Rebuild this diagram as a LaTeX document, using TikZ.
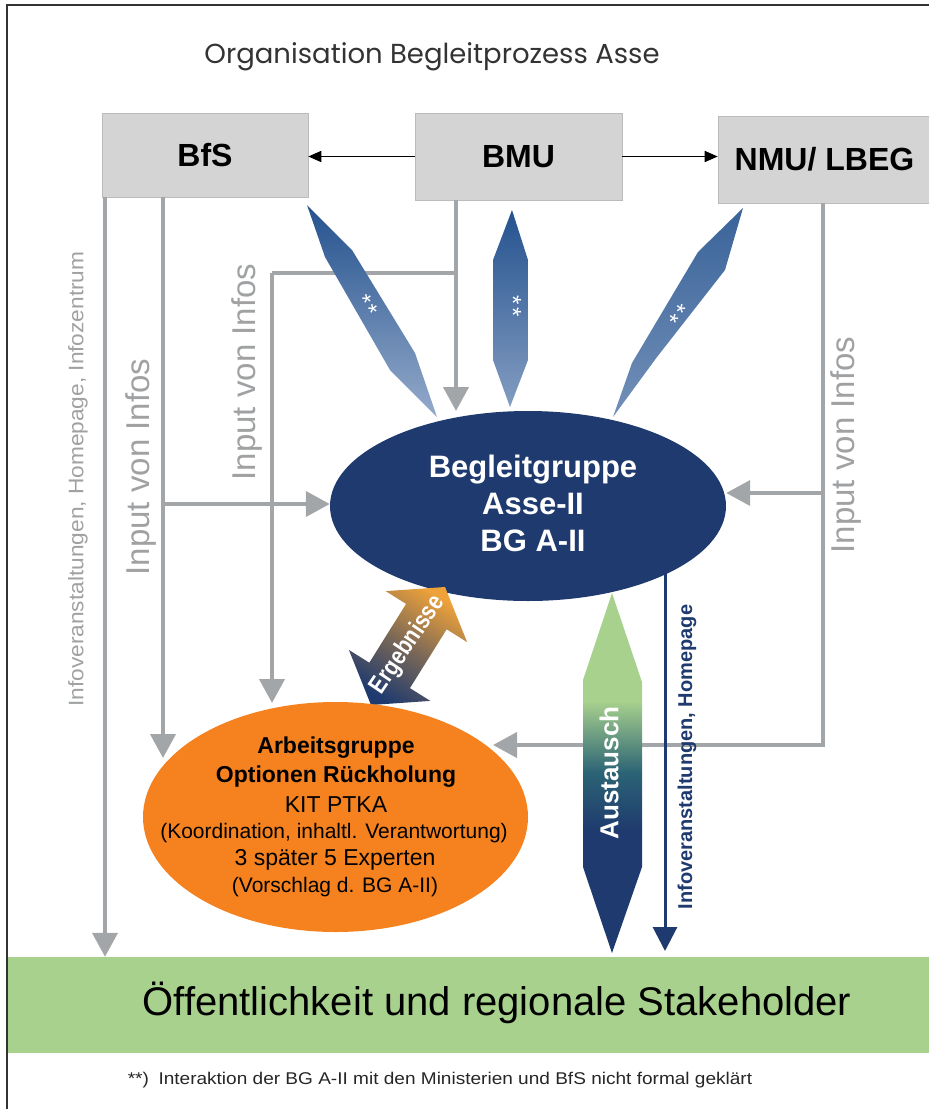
\documentclass[tikz,border=0pt]{standalone}
\usepackage{fontspec}
\setmainfont{Liberation Sans}
\newfontfamily\titlefont{Poppins}
\usetikzlibrary{arrows.meta,shapes.geometric,calc}
\definecolor{boxgray}{HTML}{D4D4D4}
\definecolor{linegray}{HTML}{A3A6A8}
\definecolor{labelgray}{HTML}{9FA1A3}
\definecolor{navy}{HTML}{1F3A6E}
\definecolor{orangeag}{HTML}{F5821F}
\definecolor{greenpub}{HTML}{A9D18E}
\definecolor{goldarrow}{HTML}{EEA23A}
\definecolor{bladedark}{HTML}{24528E}
\definecolor{bladelight}{HTML}{94AACA}
\definecolor{ausgreen}{HTML}{A8D18D}
\definecolor{austeal}{HTML}{2B6375}
\pgfdeclareverticalshading{austausch}{100bp}{color(0bp)=(navy); color(42bp)=(navy); color(50bp)=(austeal); color(60bp)=(ausgreen); color(100bp)=(ausgreen)}
\tikzset{
  graybox/.style={fill=boxgray, draw=boxgray!88!black, line width=0.6pt, inner sep=0pt, font=\bfseries\fontsize{32}{36}\selectfont},
  grayarrow/.style={draw=linegray, line width=4pt, -{Triangle[length=24pt,width=25pt]}},
  grayline/.style={draw=linegray, line width=4pt},
  blackarrow/.style={draw=black, line width=1.6pt, -{Triangle[length=13pt,width=11pt]}},
  navyarrow/.style={draw=navy, line width=3pt, -{Triangle[length=24pt,width=24pt]}},
  graylabel/.style={text=labelgray, rotate=90, inner sep=0pt},
  starlabel/.style={text=white, inner sep=0pt, font=\fontsize{24}{24}\selectfont},
  agline/.style={anchor=base, inner sep=0pt},
}
\newcommand{\twostars}{*\kern3pt*}
\begin{document}
\begin{tikzpicture}[x=1pt,y=-1pt]
\useasboundingbox (0,0) rectangle (929,1109);
% frame
\draw[line width=1.2pt, black!80] (7,1109) -- (7,5) -- (929,5);
% title
\node[font=\titlefont\fontsize{27.5}{32}\selectfont, text=black!80] (title) at (432,57) {Organisation Begleitprozess Asse};
% top boxes
\node[graybox, minimum width=206, minimum height=84] (bfs) at (205,155) {BfS};
\node[graybox, minimum width=207, minimum height=87] (bmu) at (518.5,156.5) {BMU};
\node[graybox, minimum width=213, minimum height=87] (nmu) at (824.5,159.5) {NMU/ LBEG};
\draw[blackarrow] (bmu.west) -- (bfs.east |- bmu.west);
\draw[blackarrow] (bmu.east) -- (nmu.west |- bmu.east);
% public band
\node[fill=greenpub, minimum width=921, minimum height=96, inner sep=0pt] (pub) at (468.5,1005) {};
\node[font=\fontsize{40}{44}\selectfont, inner sep=0pt] (pubtext) at (497,1003) {Öffentlichkeit und regionale Stakeholder};
% footnote
\node[font=\fontsize{17}{20}\selectfont, inner sep=0pt, text=black!85] (foot) at (440,1080) {\scalebox{1.12}[1]{**)\enspace Interaktion der BG A-II mit den Ministerien und BfS nicht formal geklärt}};
% ellipse placeholders (for names)
\path (528,506) node[ellipse, minimum width=396, minimum height=190, inner sep=0pt] (bg) {};
\path (335.5,817) node[ellipse, minimum width=385, minimum height=230, inner sep=0pt] (ag) {};
% coordinates for gray connectors
\coordinate (c1) at (105,197);
\coordinate (c2) at (163,197);
\coordinate (c2b) at (163,504);
\coordinate (c3) at (456,200);
\coordinate (c3b) at (456,273);
\coordinate (c3c) at (272,273);
\coordinate (c4) at (823,203);
\coordinate (c4b) at (823,493);
\coordinate (c4c) at (823,745);
\coordinate (c4t) at (493,745);
\coordinate (c2t) at (163,758);
\coordinate (c3t) at (272,703);
\coordinate (c3m) at (456,411);
% gray connectors
\draw[grayarrow] (c1) -- (c1 |- pub.north);
\draw[grayarrow] (c2) -- (c2t);
\draw[grayarrow] (c2b) -- (c2b -| bg.west);
\draw[grayarrow] (c3) -- (c3m);
\draw[grayline] (c3b) -- (c3c);
\draw[grayarrow] (c3c) -- (c3t);
\draw[grayarrow] (c4b) -- (c4b -| bg.east);
\draw[grayarrow] (c4) -- (c4c) -- (c4t);
% gray labels
\node[graylabel, font=\fontsize{21}{24}\selectfont] (lab1) at (78,479) {\scalebox{1.08}[1]{Infoveranstaltungen, Homepage, Infozentrum}};
\node[graylabel, font=\fontsize{33}{36}\selectfont] (lab2) at (141,467) {Input von Infos};
\node[graylabel, font=\fontsize{33}{36}\selectfont] (lab3) at (247,372) {Input von Infos};
\node[graylabel, font=\fontsize{33}{36}\selectfont] (lab4) at (846,445) {Input von Infos};
% blades
\shade[top color=bladedark, bottom color=bladelight] (307,205) -- (352,250) -- (415,353) -- (437,417) -- (390,370) -- (325,257) -- cycle;
\shade[top color=bladedark, bottom color=bladelight!85!bladedark] (512,210) -- (528,260) -- (528,360) -- (510,407) -- (493,360) -- (493,260) -- cycle;
\shade[top color=bladedark!90!white, bottom color=bladelight!70!bladedark] (743,208) -- (725,270) -- (657,357) -- (613,417) -- (632,363) -- (698,252) -- cycle;
\node[starlabel, rotate=-57] (s1) at (367,306) {\twostars};
\node[starlabel, rotate=-90] (s2) at (513,306) {\twostars};
\node[starlabel, rotate=55] (s3) at (681,316) {\twostars};
% navy line
\coordinate (navtop) at (665,570);
\draw[navyarrow] (navtop) -- (665,951);
% blue ellipse
\node[ellipse, fill=navy, minimum width=396, minimum height=190, inner sep=0pt] at (bg.center) {};
\node[text=white, font=\bfseries\fontsize{31}{37}\selectfont, align=center, inner sep=0pt] (bgtext) at (533,503) {Begleitgruppe\\Asse-II\\BG A-II};
% Ergebnisse arrow
\shade[top color=goldarrow, bottom color=navy, middle color=goldarrow!45!navy, shading angle=-32]
  (445,587) -- (467.1,642.1) -- (446.7,629.3) -- (409.9,688.1) -- (430.3,700.9) -- (371,705)
  -- (348.9,649.9) -- (369.3,662.7) -- (406.1,603.9) -- (385.7,591.1) -- cycle;
\node[text=white, font=\bfseries\fontsize{24}{24}\selectfont, rotate=56, inner sep=0pt] (erg) at (408,645) {\scalebox{0.87}[1.05]{Ergebnisse}};
% orange ellipse
\node[ellipse, fill=orangeag, minimum width=385, minimum height=230, inner sep=0pt] at (ag.center) {};
\node[agline, font=\bfseries\fontsize{23}{28}\selectfont] (ag1) at (336,753) {Arbeitsgruppe};
\node[agline, font=\bfseries\fontsize{23}{28}\selectfont] (ag2) at (336,782) {Optionen Rückholung};
\node[agline, font=\fontsize{23}{28}\selectfont] (ag3) at (336,812) {KIT PTKA};
\node[agline, font=\fontsize{21}{26}\selectfont] (ag4) at (334,838) {(Koordination, inhaltl. Verantwortung)};
\node[agline, font=\fontsize{23}{28}\selectfont] (ag5) at (335,865) {3 später 5 Experten};
\node[agline, font=\fontsize{21}{26}\selectfont] (ag6) at (335,892) {(Vorschlag d. BG A-II)};
% Austausch arrow
\shade[shading=austausch] (612,593) -- (642,682) -- (642,867) -- (612,953) -- (583,867) -- (583,680) -- cycle;
\node[text=white, font=\bfseries\fontsize{26}{26}\selectfont, rotate=90, inner sep=0pt] (aus) at (609,773) {Austausch};
% navy label
\node[text=navy, font=\bfseries\fontsize{20}{22}\selectfont, rotate=90, inner sep=0pt] (navlab) at (687,757) {Infoveranstaltungen, Homepage};
\end{tikzpicture}
\end{document}
